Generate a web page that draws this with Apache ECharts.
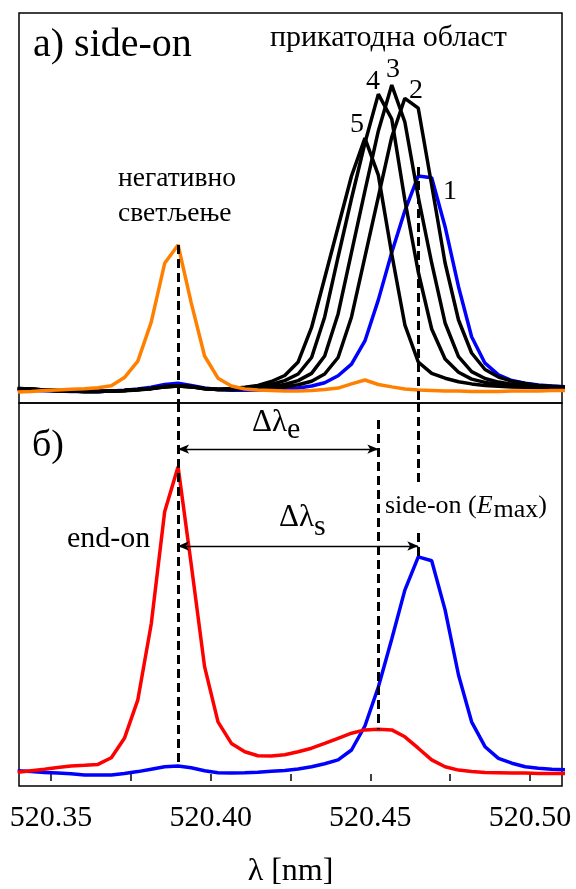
<!DOCTYPE html>
<html>
<head>
<meta charset="utf-8">
<script src="https://cdn.jsdelivr.net/npm/echarts@6/dist/echarts.min.js"></script>
<style>
  html, body { margin: 0; padding: 0; background: #fff; }
  #chart { width: 576px; height: 889px; }
</style>
</head>
<body>
<div id="chart"></div>
<script>
// Wavelength grid of the recorded spectra, nm
const wavelengths = [
  520.3396, 520.3438, 520.3480, 520.3521, 520.3563, 520.3605, 520.3647, 520.3689, 520.3730, 520.3772,
  520.3814, 520.3856, 520.3898, 520.3939, 520.3981, 520.4023, 520.4065, 520.4107, 520.4148, 520.4190,
  520.4232, 520.4274, 520.4316, 520.4357, 520.4399, 520.4441, 520.4483, 520.4525, 520.4567, 520.4608,
  520.4650, 520.4692, 520.4734, 520.4776, 520.4817, 520.4859, 520.4901, 520.4943, 520.4985, 520.5026,
  520.5068, 520.5110
];

// a) side-on: cathode-region profiles 1..5 and the negative glow (relative intensity)
const sideOn1 = [
  0.008, 0.006, 0.004, 0.003, 0.002, 0.002, 0.002, 0.003, 0.006, 0.010,
  0.016, 0.025, 0.029, 0.022, 0.013, 0.008, 0.006, 0.006, 0.007, 0.009,
  0.011, 0.013, 0.020, 0.031, 0.054, 0.093, 0.170, 0.307, 0.465, 0.604,
  0.720, 0.714, 0.551, 0.351, 0.184, 0.096, 0.057, 0.038, 0.029, 0.023,
  0.020, 0.017
];
const sideOn2 = [
  0.011, 0.009, 0.006, 0.004, 0.003, 0.002, 0.002, 0.003, 0.004, 0.007,
  0.011, 0.017, 0.020, 0.017, 0.011, 0.008, 0.008, 0.009, 0.010, 0.012,
  0.017, 0.024, 0.036, 0.060, 0.115, 0.250, 0.450, 0.650, 0.850, 0.979,
  0.946, 0.690, 0.430, 0.240, 0.130, 0.075, 0.050, 0.036, 0.028, 0.022,
  0.019, 0.017
];
const sideOn3 = [
  0.012, 0.010, 0.007, 0.005, 0.003, 0.002, 0.002, 0.003, 0.005, 0.008,
  0.012, 0.018, 0.021, 0.018, 0.012, 0.008, 0.008, 0.010, 0.013, 0.018,
  0.025, 0.038, 0.062, 0.120, 0.260, 0.465, 0.670, 0.870, 1.023, 0.900,
  0.650, 0.430, 0.230, 0.118, 0.068, 0.045, 0.033, 0.026, 0.021, 0.018,
  0.016, 0.015
];
const sideOn4 = [
  0.011, 0.009, 0.007, 0.004, 0.003, 0.002, 0.002, 0.003, 0.005, 0.008,
  0.012, 0.017, 0.020, 0.017, 0.011, 0.008, 0.010, 0.013, 0.018, 0.025,
  0.038, 0.060, 0.115, 0.250, 0.450, 0.645, 0.830, 0.993, 0.910, 0.640,
  0.400, 0.210, 0.110, 0.066, 0.043, 0.032, 0.026, 0.022, 0.019, 0.017,
  0.016, 0.015
];
const sideOn5 = [
  0.012, 0.010, 0.007, 0.005, 0.003, 0.002, 0.002, 0.003, 0.005, 0.008,
  0.012, 0.018, 0.021, 0.018, 0.012, 0.009, 0.012, 0.016, 0.022, 0.035,
  0.055, 0.100, 0.215, 0.380, 0.550, 0.720, 0.846, 0.723, 0.460, 0.224,
  0.100, 0.062, 0.046, 0.034, 0.027, 0.022, 0.019, 0.017, 0.016, 0.015,
  0.015, 0.014
];
const negativeGlow = [
  0.000, 0.002, 0.005, 0.007, 0.009, 0.011, 0.014, 0.021, 0.048, 0.103,
  0.233, 0.429, 0.490, 0.298, 0.120, 0.046, 0.020, 0.010, 0.007, 0.005,
  0.003, 0.003, 0.005, 0.008, 0.013, 0.027, 0.040, 0.025, 0.017, 0.010,
  0.007, 0.005, 0.003, 0.003, 0.002, 0.002, 0.002, 0.003, 0.003, 0.003,
  0.005, 0.005
];

// б) end-on profile and side-on profile at maximum field
const endOn = [
  0.006, 0.011, 0.016, 0.022, 0.027, 0.029, 0.032, 0.054, 0.119, 0.247,
  0.500, 0.874, 1.024, 0.700, 0.358, 0.174, 0.102, 0.074, 0.061, 0.060,
  0.064, 0.074, 0.086, 0.102, 0.119, 0.136, 0.147, 0.149, 0.147, 0.124,
  0.086, 0.047, 0.024, 0.013, 0.008, 0.005, 0.004, 0.003, 0.003, 0.002,
  0.002, 0.002
];
const sideOnEmax = [
  0.011, 0.008, 0.005, 0.003, 0.001, -0.003, -0.003, -0.003, 0.002, 0.008,
  0.016, 0.024, 0.027, 0.021, 0.011, 0.004, 0.003, 0.004, 0.006, 0.009,
  0.012, 0.017, 0.024, 0.034, 0.047, 0.080, 0.160, 0.290, 0.450, 0.613,
  0.724, 0.711, 0.547, 0.330, 0.174, 0.091, 0.052, 0.036, 0.024, 0.019,
  0.016, 0.014
];

// Axis ticks
const tickValues = [520.35, 520.375, 520.40, 520.425, 520.45, 520.475, 520.50];
const tickLabels = [520.35, 520.40, 520.45, 520.50];

// Line centres marked by the dashed guides
const lamGlow = wavelengths[12];   // negative glow / end-on peak
const lamShift = wavelengths[27];  // shifted end-on component
const lamSide = wavelengths[30];   // side-on peak at E max

const FAMILY = 'Liberation Serif';
const X_MIN = 520.34, X_MAX = 520.51;
const TOP_MIN = -0.0367, TOP_MAX = 1.2633;
const BOT_MIN = -0.04, BOT_MAX = 1.2367;

const pairs = arr => wavelengths.map((w, i) => [w, arr[i]]);

function line(name, data, color, grid, extra) {
  return Object.assign({
    name, type: 'line', xAxisIndex: grid, yAxisIndex: grid,
    data: pairs(data), showSymbol: false, symbol: 'none',
    lineStyle: { color, width: 3.5 }, itemStyle: { color },
    silent: true, animation: false
  }, extra || {});
}

const dashStyle = { color: '#000', width: 3, type: [9, 5] };

function fontOf(size, italic) {
  return (italic ? 'italic ' : '') + size + 'px "' + FAMILY + '"';
}

function txt(text, x, y, size, opt) {
  opt = opt || {};
  return {
    type: 'text', x, y, silent: true, z: 100,
    style: {
      text, fill: '#000', font: fontOf(size, opt.italic),
      align: opt.align || 'left', textAlign: opt.align || 'left',
      verticalAlign: 'middle', textVerticalAlign: 'middle'
    }
  };
}

// Text made of several runs (subscripts, italics) laid out left to right
const measureCtx = document.createElement('canvas').getContext('2d');
function textRun(parts, x, y) {
  const out = [];
  let cx = x;
  parts.forEach(p => {
    out.push(txt(p.t, cx, y + (p.dy || 0), p.size, { italic: p.italic }));
    measureCtx.font = fontOf(p.size, p.italic);
    cx += measureCtx.measureText(p.t).width + (p.gap || 0);
  });
  return out;
}

const chart = echarts.init(document.getElementById('chart'), null, { renderer: 'canvas' });

chart.setOption({
  backgroundColor: '#fff',
  animation: false,
  textStyle: { fontFamily: FAMILY, color: '#000' },
  grid: [
    { left: 19, top: 13, width: 543, height: 390, show: true, borderColor: '#000', borderWidth: 1.5, backgroundColor: 'transparent' },
    { left: 19, top: 403, width: 543, height: 383, show: true, borderColor: '#000', borderWidth: 1.5, backgroundColor: 'transparent' }
  ],
  xAxis: [
    { gridIndex: 0, type: 'value', min: X_MIN, max: X_MAX,
      axisLine: { show: false }, axisTick: { show: false }, axisLabel: { show: false }, splitLine: { show: false } },
    { gridIndex: 1, type: 'value', min: X_MIN, max: X_MAX,
      axisLine: { show: false }, splitLine: { show: false },
      axisTick: { show: true, inside: false, length: 7, customValues: tickValues,
        lineStyle: { color: '#000', width: 1.5 } },
      axisLabel: { show: true, customValues: tickLabels, margin: 17,
        formatter: v => v.toFixed(2),
        fontFamily: FAMILY, fontStyle: 'normal', fontWeight: 'normal', fontSize: 30, color: '#000' },
      name: 'λ [nm]', nameLocation: 'middle', nameGap: 70,
      nameTextStyle: { fontFamily: FAMILY, fontStyle: 'normal', fontWeight: 'normal', fontSize: 32, color: '#000' } }
  ],
  yAxis: [
    { gridIndex: 0, type: 'value', min: TOP_MIN, max: TOP_MAX, show: false, splitLine: { show: false } },
    { gridIndex: 1, type: 'value', min: BOT_MIN, max: BOT_MAX, show: false, splitLine: { show: false } }
  ],
  series: [
    line('1', sideOn1, '#0000ff', 0),
    line('2', sideOn2, '#000000', 0),
    line('3', sideOn3, '#000000', 0),
    line('4', sideOn4, '#000000', 0),
    line('5', sideOn5, '#000000', 0),
    line('негативно светљење', negativeGlow, '#ff8000', 0, {
      markLine: {
        silent: true, symbol: 'none', animation: false, label: { show: false },
        lineStyle: dashStyle, emphasis: { disabled: true },
        data: [
          [{ coord: [lamGlow, negativeGlow[12]] }, { coord: [lamGlow, TOP_MIN] }],
          [{ coord: [lamSide, 0.75] }, { coord: [lamSide, TOP_MIN] }]
        ]
      }
    }),
    line('side-on (Emax)', sideOnEmax, '#0000ff', 1, {
      markLine: {
        silent: true, symbol: ['arrow', 'arrow'], symbolSize: [7, 11], animation: false,
        label: { show: false }, emphasis: { disabled: true },
        lineStyle: { color: '#000', width: 1.3, type: 'solid' },
        data: [
          [{ coord: [lamGlow, 1.083] }, { coord: [lamShift, 1.083] }],
          [{ coord: [lamGlow, 0.76] }, { coord: [lamSide, 0.76] }]
        ]
      }
    }),
    line('end-on', endOn, '#ff0000', 1, {
      markLine: {
        silent: true, symbol: 'none', animation: false, label: { show: false },
        lineStyle: dashStyle, emphasis: { disabled: true },
        data: [
          [{ coord: [lamGlow, BOT_MAX] }, { coord: [lamGlow, sideOnEmax[12]] }],
          [{ coord: [lamShift, 1.18] }, { coord: [lamShift, endOn[27]] }],
          [{ coord: [lamSide, BOT_MAX] }, { coord: [lamSide, 0.958] }],
          [{ coord: [lamSide, 0.803] }, { coord: [lamSide, sideOnEmax[30]] }]
        ]
      }
    })
  ],
  graphic: [].concat(
    [
      txt('a) side-on', 33, 45, 40),
      txt('прикатодна област', 270, 38.5, 30),
      txt('негативно', 118, 179, 27.5),
      txt('светљење', 118, 214, 27.5),
      txt('5', 357, 125, 28, { align: 'center' }),
      txt('4', 373, 82, 28, { align: 'center' }),
      txt('3', 393, 70, 28, { align: 'center' }),
      txt('2', 416, 91, 28, { align: 'center' }),
      txt('1', 450, 192, 28, { align: 'center' }),
      txt('б)', 32, 446, 38),
      txt('end-on', 67, 539, 30)
    ],
    textRun([{ t: 'Δλ', size: 31 }, { t: 'e', size: 30, dy: 7 }], 252, 423),
    textRun([{ t: 'Δλ', size: 31 }, { t: 's', size: 30, dy: 9 }], 279, 518),
    textRun([
      { t: 'side-on (', size: 26 },
      { t: 'E', size: 26, italic: true, gap: 1 },
      { t: 'max', size: 26, dy: 4 },
      { t: ')', size: 26 }
    ], 385, 506)
  )
});
</script>
</body>
</html>
